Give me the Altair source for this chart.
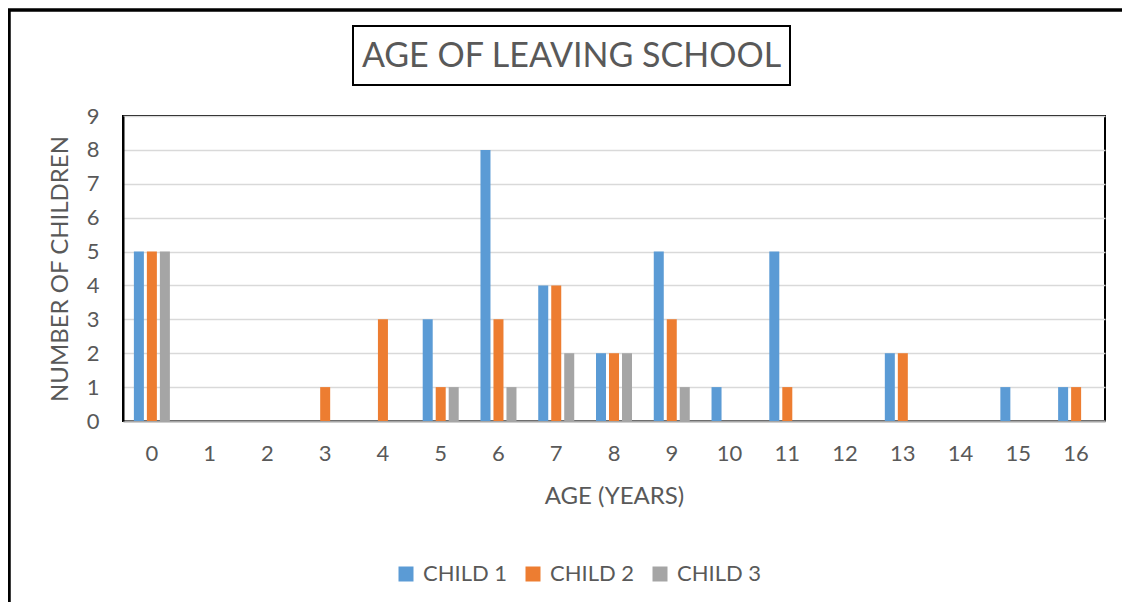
import altair as alt
import pandas as pd

title_text = "AGE OF LEAVING SCHOOL"
x_title = "AGE (YEARS)"
y_title = "NUMBER OF CHILDREN"
ages = list(range(17))
series_names = ["CHILD 1", "CHILD 2", "CHILD 3"]
child1 = [5, 0, 0, 0, 0, 3, 8, 4, 2, 5, 1, 5, 0, 2, 0, 1, 1]
child2 = [5, 0, 0, 1, 3, 1, 3, 4, 2, 3, 0, 1, 0, 2, 0, 0, 1]
child3 = [5, 0, 0, 0, 0, 1, 1, 2, 2, 1, 0, 0, 0, 0, 0, 0, 0]
colors = ["#5b9bd5", "#ed7d31", "#a5a5a5"]
y_ticks = list(range(10))

rows = []
for name, vals in zip(series_names, [child1, child2, child3]):
    for a, v in zip(ages, vals):
        rows.append({"age": a, "series": name, "count": v})
df = pd.DataFrame(rows)

FONT = "Lato"
TXT = "#595959"
W, H = 982, 305

bars = alt.Chart(df).mark_bar().encode(
    x=alt.X("age:O", sort=ages,
            scale=alt.Scale(paddingInner=0.325, paddingOuter=0.1625),
            axis=alt.Axis(title=x_title, labelAngle=0, ticks=False, labelPadding=22,
                          domainColor="#a6a6a6", domainWidth=2,
                          titleY=75, titleBaseline="middle", titleFontWeight="normal",
                          titleFontSize=24, titleColor=TXT)),
    xOffset=alt.XOffset("series:N", sort=series_names,
                        scale=alt.Scale(paddingInner=0.23, paddingOuter=0.115)),
    y=alt.Y("count:Q", scale=alt.Scale(domain=[0, 9], nice=False),
            axis=alt.Axis(title=y_title, values=y_ticks, ticks=False, labelPadding=24,
                          domainColor="black", domainWidth=2,
                          gridColor="#d9d9d9", gridWidth=1.5,
                          titleX=-63, titleY=H / 2, titleAngle=-90, titleAlign="center",
                          titleBaseline="middle", titleFontWeight="normal",
                          titleFontSize=24, titleColor=TXT)),
    color=alt.Color("series:N", sort=series_names,
                    scale=alt.Scale(domain=series_names, range=colors),
                    legend=alt.Legend(title=None, orient="none", direction="horizontal",
                                      legendX=272, legendY=447, symbolType="square",
                                      symbolSize=225, symbolStrokeWidth=0,
                                      labelFontSize=22, labelColor=TXT, labelFont=FONT,
                                      labelOffset=6, columnPadding=14, gridAlign="all")),
)

one = pd.DataFrame({"k": [0]})
frame = alt.Chart(one).mark_rect(fillOpacity=0, stroke="black", strokeWidth=3.5).encode(
    x=alt.value(-114), x2=alt.value(1030), y=alt.value(-106), y2=alt.value(520)
)
title_box = alt.Chart(one).mark_rect(fillOpacity=0, stroke="black", strokeWidth=2).encode(
    x=alt.value(230), x2=alt.value(667), y=alt.value(-90), y2=alt.value(-31)
)
title_mark = alt.Chart(one).mark_text(font=FONT, fontSize=34, color=TXT,
                                      align="center", baseline="middle").encode(
    x=alt.value(448.5), y=alt.value(-59), text=alt.value(title_text)
)

chart = alt.layer(bars, frame, title_box, title_mark).properties(
    width=W, height=H,
    padding={"left": 115, "top": 108, "right": 17, "bottom": 181},
    autosize=alt.AutoSizeParams(type="none"),
).configure_view(stroke="black", strokeWidth=2).configure_axis(
    labelFont=FONT, titleFont=FONT, labelFontSize=22, labelColor=TXT
).configure_legend(labelFont=FONT)

chart.save("out.html", embed_options={"renderer": "svg", "actions": False})
